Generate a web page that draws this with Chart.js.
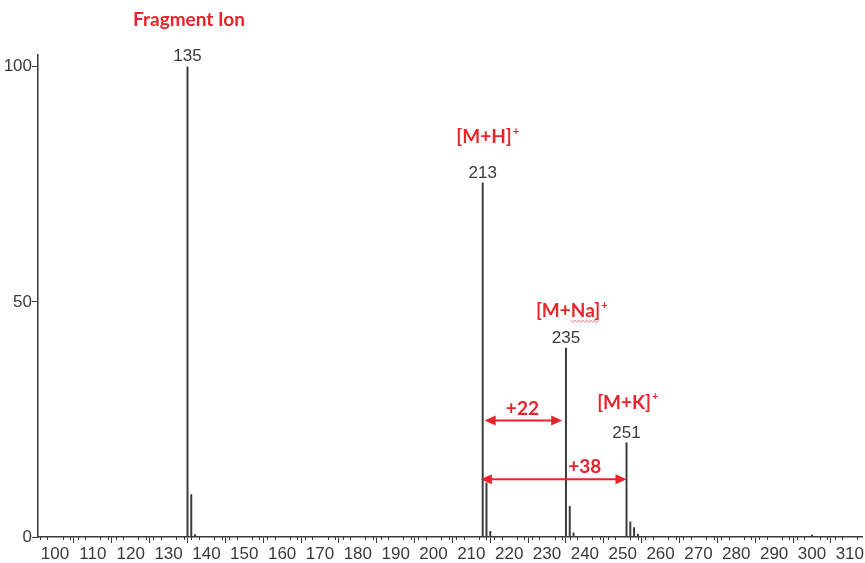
<!DOCTYPE html>
<html>
<head>
<meta charset="utf-8">
<script src="https://cdn.jsdelivr.net/npm/chart.js@4.4.0/dist/chart.umd.min.js"></script>
<style>
  body { margin: 0; background: #fff; }
  #wrap { width: 865px; height: 563px; position: relative; }
</style>
</head>
<body>
<div id="wrap"><canvas id="myChart"></canvas></div>
<script>
// spectre de masse
var masses      = [135, 136, 137, 213, 214, 215, 235, 236, 237, 251, 252, 253, 254, 300];
var intensities = [100, 9, 0.5, 75.3, 11.5, 1.2, 40.2, 6.5, 0.9, 20, 3.2, 2, 0.6, 0.4];

var xMajorTicks = [100, 110, 120, 130, 140, 150, 160, 170, 180, 190, 200, 210, 220, 230, 240, 250, 260, 270, 280, 290, 300, 310];
var yTicks = [0, 50, 100];

// pics annotés (m/z, intensité)
var labelledPeaks = [135, 213, 235, 251];
var ionNames = ['Fragment Ion', '[M+H]', '[M+Na]', '[M+K]'];
var ionSup   = ['', '+', '+', '+'];
var ionPos   = [[135.4, 110], [214.2, 85], [236.4, 48], [251.2, 28.6]]; // m/z, intensité

var shiftLabels = ['+22', '+38'];
var shiftFrom   = [213.5, 212.5];
var shiftTo     = [234, 251];
var shiftLevel  = [24.8, 12.3];

var RED = '#e8232b';
var INK = '#3a3a3a';
var tickFont = '"Liberation Sans Narrow", "Liberation Sans", sans-serif';
var redFont = 'bold 19px Lato, "Open Sans", sans-serif';
var supFont = 'bold 11px Lato, "Open Sans", sans-serif';

var spectrumPlugin = {
    id: 'spectrum',
    afterDraw: function(chart) {
        var ctx = chart.ctx;
        var xs = chart.scales.x, ys = chart.scales.y;
        ctx.save();

        // petites graduations tous les 2
        ctx.strokeStyle = INK;
        ctx.lineWidth = 1;
        for (var v = 96; v <= 312; v += 2) {
            if (v % 10 === 0) continue;
            var px = Math.round(xs.getPixelForValue(v)) + 0.5;
            ctx.beginPath();
            ctx.moveTo(px, ys.bottom);
            ctx.lineTo(px, ys.bottom + 3);
            ctx.stroke();
        }

        // étiquettes des pics
        ctx.fillStyle = INK;
        ctx.font = '17px ' + tickFont;
        ctx.textAlign = 'center';
        ctx.textBaseline = 'middle';
        labelledPeaks.forEach(function(m) {
            var h = intensities[masses.indexOf(m)];
            ctx.fillText(String(m), xs.getPixelForValue(m), ys.getPixelForValue(h) - 10);
        });

        // noms des ions en rouge
        ctx.fillStyle = RED;
        ionNames.forEach(function(name, i) {
            ctx.font = redFont;
            var w = ctx.measureText(name).width;
            ctx.font = supFont;
            var sw = ionSup[i] ? ctx.measureText(ionSup[i]).width : 0;
            var cx = xs.getPixelForValue(ionPos[i][0]);
            var cy = ys.getPixelForValue(ionPos[i][1]);
            var left = cx - (w + sw) / 2;
            ctx.textAlign = 'left';
            ctx.font = redFont;
            ctx.fillText(name, left, cy);
            if (sw) {
                ctx.font = supFont;
                ctx.fillText(ionSup[i], left + w + 1, cy - 6);
            }
            if (name === '[M+Na]') {
                // soulignement ondulé (correcteur)
                ctx.font = redFont;
                var x0 = left + ctx.measureText('[M+').width;
                var x1 = left + w;
                ctx.strokeStyle = 'rgba(232,35,43,0.55)';
                ctx.lineWidth = 1;
                ctx.beginPath();
                for (var x = x0, k = 0; x <= x1; x += 2, k++) {
                    var y = cy + 10 + (k % 2 ? 1.2 : -1.2);
                    if (k === 0) ctx.moveTo(x, y); else ctx.lineTo(x, y);
                }
                ctx.stroke();
            }
        });

        // flèches de décalage
        ctx.strokeStyle = RED;
        ctx.fillStyle = RED;
        ctx.lineWidth = 2;
        shiftLabels.forEach(function(lab, i) {
            var xa = xs.getPixelForValue(shiftFrom[i]);
            var xb = xs.getPixelForValue(shiftTo[i]);
            var y = ys.getPixelForValue(shiftLevel[i]);
            ctx.beginPath();
            ctx.moveTo(xa + 8, y);
            ctx.lineTo(xb - 8, y);
            ctx.stroke();
            [[xa, 1], [xb, -1]].forEach(function(e) {
                ctx.beginPath();
                ctx.moveTo(e[0], y);
                ctx.lineTo(e[0] + e[1] * 11, y - 5);
                ctx.lineTo(e[0] + e[1] * 11, y + 5);
                ctx.closePath();
                ctx.fill();
            });
            ctx.font = redFont;
            ctx.textAlign = 'center';
            ctx.fillText(lab, (xa + xb) / 2 + (i === 0 ? -1 : 31), y - 12);
        });

        ctx.restore();
    }
};

var ctx = document.getElementById('myChart').getContext('2d');
var myChart = new Chart(ctx, {
    type: 'bar',
    data: {
        datasets: [{
            data: masses.map(function(m, i) { return { x: m, y: intensities[i] }; }),
            backgroundColor: INK,
            borderWidth: 0,
            barThickness: 1.3
        }]
    },
    options: {
        responsive: true,
        maintainAspectRatio: false,
        animation: false,
        layout: { padding: { top: 55, right: 0, left: 0, bottom: 0 } },
        plugins: {
            legend: { display: false },
            tooltip: { enabled: false }
        },
        scales: {
            x: {
                type: 'linear',
                offset: false,
                min: 95.5,
                max: 313.4,
                afterBuildTicks: function(s) { s.ticks = xMajorTicks.map(function(v) { return { value: v }; }); },
                afterFit: function(s) { s.height = 26; },
                grid: { drawOnChartArea: false, drawTicks: true, tickLength: 6, tickColor: INK },
                border: { color: INK, width: 1.5 },
                ticks: { color: INK, padding: 1, maxRotation: 0, autoSkip: false, font: { family: tickFont, size: 17 } }
            },
            y: {
                min: 0,
                max: 102.5,
                afterBuildTicks: function(s) { s.ticks = yTicks.map(function(v) { return { value: v }; }); },
                afterFit: function(s) { s.width = 38; },
                grid: { drawOnChartArea: false, drawTicks: true, tickLength: 6, tickColor: INK },
                border: { color: INK, width: 1.5 },
                ticks: { color: INK, padding: 0, font: { family: tickFont, size: 17 } }
            }
        }
    },
    plugins: [spectrumPlugin]
});
</script>
</body>
</html>
